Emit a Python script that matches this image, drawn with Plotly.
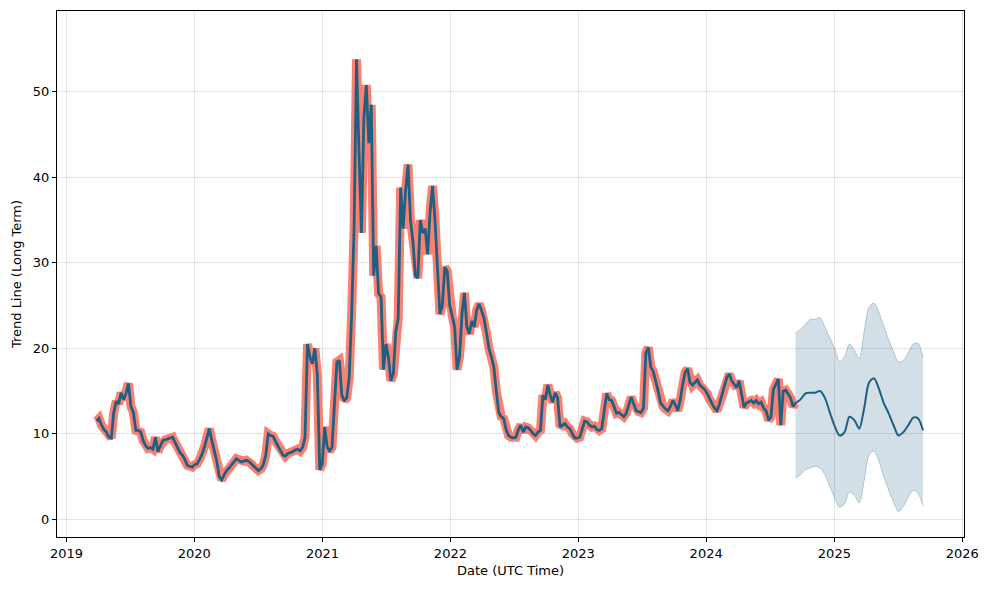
import pandas as pd
import plotly.graph_objects as go

# ---------------- data ----------------
hist_start = "2019-03-28"
hist_values = [
    # 2019 (from late March)
    11.5, 11.8, 11.0, 10.5, 10.2, 9.6, 9.5, 12.5, 13.8, 13.5,
    14.8, 14.0, 14.7, 15.9, 13.2, 12.5, 10.4, 10.4, 10.2, 9.2,
    8.6, 8.3, 8.4, 8.2, 9.6, 7.9, 8.6, 9.2, 9.3, 9.4,
    9.5, 9.6, 9.0, 8.4, 7.8, 7.5, 7.0, 6.3, 6.2, 6.1,
    # 2020
    6.4, 6.5, 7.0, 7.6, 8.5, 9.6, 10.6, 9.2, 8.0, 6.8,
    5.0, 4.6, 5.2, 5.7, 6.0, 6.4, 6.7, 7.1, 6.9, 6.7,
    6.8, 6.9, 6.8, 6.5, 6.2, 6.0, 5.7, 5.9, 6.4, 7.5,
    10.0, 9.8, 9.7, 9.1, 8.6, 8.0, 7.5, 7.4, 7.7, 7.8,
    7.9, 8.1, 8.2, 8.0, 8.4, 9.6, 20.5, 19.0, 18.2, 20.0,
    17.0, 5.8,
    # 2021
    6.5, 10.8, 8.5, 8.0, 8.4, 13.5, 18.4, 18.6, 14.5, 13.9,
    14.2, 16.5, 24.0, 34.0, 53.8, 43.0, 33.5, 47.0, 50.8, 44.0,
    48.5, 28.5, 32.0, 26.4, 26.0, 17.5, 20.5, 19.0, 16.2, 17.0,
    22.0, 23.5, 38.8, 34.0, 38.5, 41.5, 35.0, 32.5, 28.5, 28.2,
    35.0, 33.5, 34.0, 31.0, 36.0, 39.0, 35.0, 29.5, 24.0, 25.0,
    29.5, 29.0, 25.0,
    # 2022
    23.8, 22.5, 17.5, 19.0, 24.0, 26.5, 22.5, 21.7, 23.2, 22.5,
    24.5, 25.2, 24.4, 23.5, 21.8, 20.0, 19.0, 17.8, 15.0, 12.5,
    12.0, 11.8, 10.5, 9.8, 9.6, 9.5, 9.6, 10.5, 11.0, 10.2,
    10.8, 10.7, 10.4, 10.0, 9.8, 10.2, 10.4, 14.5, 14.0, 15.7,
    14.5, 13.7, 14.8, 14.2, 10.8, 11.0, 11.2, 10.8, 10.6, 10.0,
    9.5, 9.5,
    # 2023
    9.6, 10.5, 11.5, 11.4, 11.0, 10.8, 10.9, 10.5, 10.4, 10.6,
    12.5, 14.7, 14.0, 13.9, 13.2, 12.4, 12.5, 12.2, 12.0, 12.4,
    13.5, 14.3, 13.5, 12.7, 12.6, 12.5, 13.0, 19.5, 20.1, 17.8,
    17.3, 16.2, 15.0, 13.6, 13.2, 12.9, 12.7, 13.2, 13.9, 13.4,
    12.7, 14.0, 15.8, 17.2, 17.6, 16.0, 15.7, 16.0, 16.3, 15.7,
    15.4, 15.2,
    # 2024
    14.7, 14.0, 13.5, 13.0, 12.7, 13.5, 14.5, 15.5, 16.6, 17.0,
    16.2, 15.8, 15.4, 16.2, 14.5, 13.1, 13.6, 13.8, 13.9, 13.6,
    13.9, 13.5, 13.7, 13.0, 12.7, 11.6, 12.0, 15.2, 15.9, 16.4,
    11.0, 15.0, 15.1, 14.7, 14.2, 13.2, 13.6,
]

fc_start = "2024-09-12"
fc_yhat = [13.6, 14.0, 14.7, 14.8, 14.8, 15.0, 14.2, 12.5, 10.9, 9.8,
           10.2, 12.0, 11.6, 10.6, 13.0, 16.0, 16.5, 15.3, 13.6, 12.4,
           11.0, 9.8, 10.2, 11.0, 11.9, 11.8, 10.4]
fc_upper = [21.8, 22.2, 22.8, 23.4, 23.4, 23.6, 22.5, 21.2, 20.0, 18.4,
            19.0, 20.5, 19.8, 18.8, 22.0, 24.8, 25.3, 24.2, 22.6, 21.0,
            19.6, 18.4, 18.6, 19.5, 20.5, 20.6, 18.9]
fc_lower = [4.8, 5.2, 5.8, 6.0, 6.2, 6.0, 5.2, 3.8, 2.5, 1.4,
            1.8, 3.2, 2.8, 1.9, 4.5, 7.5, 8.0, 6.8, 5.0, 3.4,
            2.0, 0.9, 1.5, 2.6, 3.4, 3.0, 1.6]

x_ticks = ["2019-01-01", "2020-01-01", "2021-01-01", "2022-01-01",
           "2023-01-01", "2024-01-01", "2025-01-01", "2026-01-01"]
x_tick_labels = ["2019", "2020", "2021", "2022", "2023", "2024", "2025", "2026"]
y_ticks = [0, 10, 20, 30, 40, 50]

hist_dates = pd.date_range(hist_start, periods=len(hist_values), freq="7D")
fc_dates = pd.date_range(fc_start, periods=len(fc_yhat), freq="14D")

# ---------------- figure ----------------
BLUE = "#1f5f82"
BAND = "rgba(31,95,130,0.2)"
EDGE = "rgba(31,95,130,0.28)"
SALMON = "#fa8072"

fig = go.Figure()

# forecast band
fig.add_trace(go.Scatter(x=fc_dates, y=fc_upper, mode="lines",
                         line=dict(color=EDGE, width=1, shape="spline", smoothing=0.8),
                         showlegend=False, hoverinfo="skip"))
fig.add_trace(go.Scatter(x=fc_dates, y=fc_lower, mode="lines",
                         line=dict(color=EDGE, width=1, shape="spline", smoothing=0.8),
                         fill="tonexty", fillcolor=BAND,
                         showlegend=False, hoverinfo="skip"))

# history: salmon halo + blue line
fig.add_trace(go.Scatter(x=hist_dates, y=hist_values, mode="lines",
                         line=dict(color=SALMON, width=9),
                         showlegend=False))
fig.add_trace(go.Scatter(x=hist_dates, y=hist_values, mode="lines",
                         line=dict(color=BLUE, width=2.8),
                         showlegend=False))
# forecast line
fig.add_trace(go.Scatter(x=fc_dates, y=fc_yhat, mode="lines",
                         line=dict(color=BLUE, width=2, shape="spline", smoothing=0.8),
                         showlegend=False))

axis_common = dict(
    showline=True, linecolor="black", linewidth=1, mirror=True,
    ticks="outside", ticklen=4, tickcolor="black", tickwidth=1,
    showgrid=True, gridcolor="rgba(0,0,0,0.11)", gridwidth=1,
    zeroline=False,
    tickfont=dict(family="DejaVu Sans", size=13, color="black"),
    title_font=dict(family="DejaVu Sans", size=13, color="black"),
)

fig.update_layout(
    width=989, height=590,
    margin=dict(l=57, r=23, t=10, b=53),
    paper_bgcolor="white", plot_bgcolor="white",
    xaxis=dict(range=["2018-12-05", "2026-01-06"],
               tickvals=x_ticks, ticktext=x_tick_labels,
               title=dict(text="Date (UTC Time)", standoff=6),
               **axis_common),
    yaxis=dict(range=[-2.07, 59.46], tickvals=y_ticks,
               title=dict(text="Trend Line (Long Term)", standoff=8),
               **axis_common),
)

fig.write_html("out.html")
